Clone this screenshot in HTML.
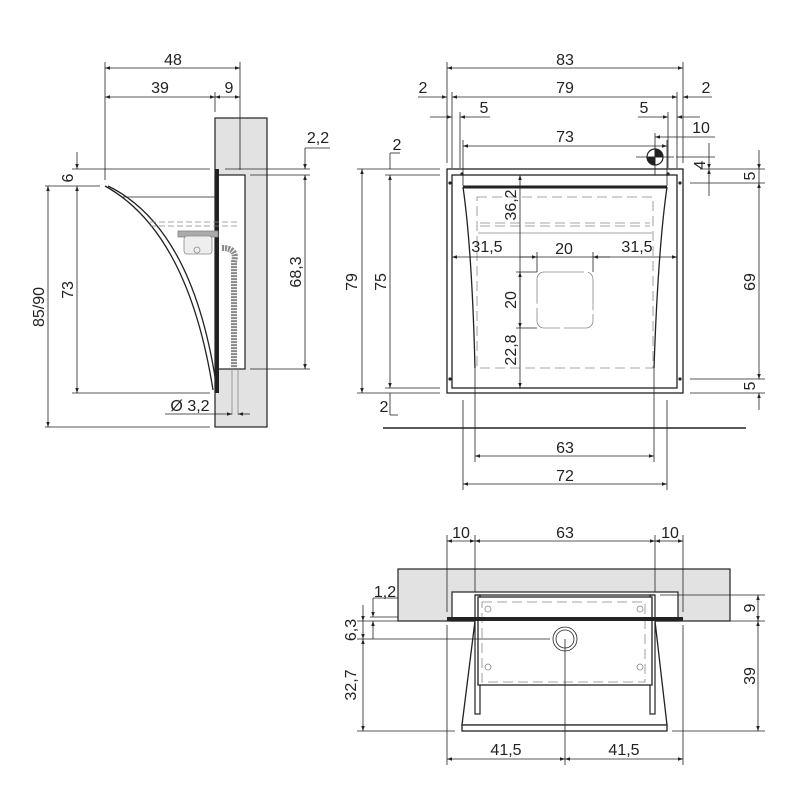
<!DOCTYPE html>
<html><head><meta charset="utf-8"><style>
html,body{margin:0;padding:0;background:#fff;}
svg{display:block}
text{font-family:"Liberation Sans",Arial,sans-serif;font-size:16px;fill:#222;}
</style></head><body>
<svg width="800" height="800" viewBox="0 0 800 800" xmlns="http://www.w3.org/2000/svg">
<defs>
<marker id="a" viewBox="0 0 10 10" refX="10" refY="5" markerWidth="7" markerHeight="5" orient="auto-start-reverse" markerUnits="userSpaceOnUse"><path d="M0,1.5L10,5L0,8.5z" fill="#222"/></marker>
</defs>
<g stroke="#222" stroke-width="0.8" fill="none">
<!-- ============ SIDE VIEW ============ -->
<rect x="215" y="118" width="52" height="309" fill="#e2e2e2" stroke="#222" stroke-width="1.2"/>
<rect x="218" y="175" width="27" height="194" fill="#fff" stroke="#222" stroke-width="1.2"/>
<rect x="215" y="169" width="4" height="224" fill="#222" stroke="none"/>
<path d="M105,186 Q188,232 213,390" stroke-width="1.3"/>
<path d="M108,186 Q194,228 217,390" stroke-width="1.3"/>
<line x1="123" y1="197" x2="215" y2="197"/>
<g stroke="#888">
<path d="M150,222 L240,222 M150,226 L240,226" stroke-dasharray="6,3"/>
<rect x="178" y="231" width="40" height="6" fill="#aaa"/>
<rect x="184" y="236" width="28" height="18" rx="3" fill="#eee"/>
<circle cx="197" cy="250" r="3"/>
<path d="M222,248 Q238,248 234,262 L234,368" stroke-width="6" stroke="#888" stroke-dasharray="2,1"/>
<path d="M232,369 L232,415 M238,369 L238,415"/>
</g>
<line x1="105" y1="62" x2="105" y2="180"/>
<line x1="240" y1="62" x2="240" y2="170"/>
<line x1="215" y1="92" x2="215" y2="112"/>
<line x1="105" y1="68" x2="240" y2="68" marker-start="url(#a)" marker-end="url(#a)"/>
<line x1="105" y1="97" x2="215" y2="97" marker-start="url(#a)" marker-end="url(#a)"/>
<line x1="215" y1="97" x2="240" y2="97" marker-start="url(#a)" marker-end="url(#a)"/>
<line x1="72" y1="169" x2="210" y2="169"/>
<line x1="45" y1="186" x2="100" y2="186"/>
<line x1="72" y1="393" x2="210" y2="393"/>
<line x1="45" y1="427" x2="210" y2="427"/>
<line x1="77" y1="152" x2="77" y2="169" marker-end="url(#a)"/>
<line x1="77" y1="186" x2="77" y2="393" marker-start="url(#a)" marker-end="url(#a)"/>
<line x1="48" y1="186" x2="48" y2="427" marker-start="url(#a)" marker-end="url(#a)"/>
<line x1="225" y1="169" x2="310" y2="169"/>
<line x1="250" y1="175" x2="310" y2="175"/>
<line x1="250" y1="369" x2="310" y2="369"/>
<line x1="305" y1="148" x2="330" y2="148"/>
<line x1="305" y1="148" x2="305" y2="169" marker-end="url(#a)"/>
<line x1="305" y1="175" x2="305" y2="369" marker-start="url(#a)" marker-end="url(#a)"/>
<line x1="165" y1="414" x2="232" y2="414" marker-end="url(#a)"/>
<line x1="250" y1="414" x2="238" y2="414" marker-end="url(#a)"/>

<!-- ============ FRONT VIEW ============ -->
<rect x="447" y="169" width="236" height="224" stroke-width="1.3"/>
<rect x="452" y="175" width="225" height="213" stroke-width="1.3"/>
<line x1="463" y1="187" x2="667" y2="187" stroke-width="3"/>
<path d="M463,187 Q472,250 475,368" stroke-width="1.3"/>
<path d="M667,187 Q658,250 654,368" stroke-width="1.3"/>
<g stroke="#888">
<rect x="477" y="197" width="176" height="171" stroke-dasharray="10,5"/>
<line x1="480" y1="223" x2="650" y2="223" stroke-dasharray="10,5"/>
<line x1="480" y1="226" x2="650" y2="226" stroke-dasharray="10,5"/>
<line x1="478" y1="233" x2="652" y2="233"/>
<rect x="537" y="272" width="56" height="56" rx="7" stroke-dasharray="40,4"/>
</g>
<circle cx="462" cy="174" r="1.2" fill="#222"/><circle cx="668" cy="174" r="1.2" fill="#222"/>
<circle cx="450" cy="183" r="1.2" fill="#222"/><circle cx="680" cy="183" r="1.2" fill="#222"/>
<circle cx="450" cy="379" r="1.2" fill="#222"/><circle cx="680" cy="379" r="1.2" fill="#222"/>
<circle cx="655" cy="157" r="8" fill="#fff" stroke-width="1.2"/>
<path d="M655,157 L655,149 A8,8 0 0 1 663,157 Z" fill="#222"/>
<path d="M655,157 L655,165 A8,8 0 0 1 647,157 Z" fill="#222"/>
<line x1="636" y1="157" x2="674" y2="157"/>
<line x1="655" y1="133" x2="655" y2="175"/>
<line x1="447" y1="62" x2="447" y2="163"/>
<line x1="683" y1="62" x2="683" y2="163"/>
<line x1="452" y1="92" x2="452" y2="168"/>
<line x1="677" y1="92" x2="677" y2="168"/>
<line x1="460" y1="112" x2="460" y2="168"/>
<line x1="668" y1="112" x2="668" y2="168"/>
<line x1="447" y1="68" x2="683" y2="68" marker-start="url(#a)" marker-end="url(#a)"/>
<line x1="452" y1="97" x2="677" y2="97" marker-start="url(#a)" marker-end="url(#a)"/>
<line x1="418" y1="97" x2="447" y2="97" marker-end="url(#a)"/>
<line x1="712" y1="97" x2="683" y2="97" marker-end="url(#a)"/>
<line x1="430" y1="117" x2="452" y2="117" marker-end="url(#a)"/>
<line x1="490" y1="117" x2="460" y2="117" marker-end="url(#a)"/>
<line x1="638" y1="117" x2="668" y2="117" marker-end="url(#a)"/>
<line x1="700" y1="117" x2="677" y2="117" marker-end="url(#a)"/>
<line x1="463" y1="146" x2="667" y2="146" marker-start="url(#a)" marker-end="url(#a)"/>
<line x1="463" y1="140" x2="463" y2="186"/>
<line x1="667" y1="140" x2="667" y2="186"/>
<line x1="655" y1="137" x2="683" y2="137" marker-start="url(#a)"/>
<line x1="683" y1="137" x2="715" y2="137"/>
<line x1="676" y1="157" x2="715" y2="157"/>
<line x1="709" y1="143" x2="709" y2="169" marker-end="url(#a)"/>
<line x1="709" y1="196" x2="709" y2="169" marker-end="url(#a)"/>
<line x1="690" y1="183" x2="765" y2="183"/>
<line x1="690" y1="379" x2="765" y2="379"/>
<line x1="690" y1="393" x2="765" y2="393"/>
<line x1="759" y1="150" x2="759" y2="169" marker-end="url(#a)"/>
<line x1="759" y1="169" x2="759" y2="183"/>
<line x1="759" y1="183" x2="759" y2="379" marker-start="url(#a)" marker-end="url(#a)"/>
<line x1="759" y1="410" x2="759" y2="393" marker-end="url(#a)"/>
<line x1="700" y1="169" x2="765" y2="169"/>
<line x1="357" y1="169" x2="440" y2="169"/>
<line x1="385" y1="175" x2="440" y2="175"/>
<line x1="385" y1="388" x2="440" y2="388"/>
<line x1="357" y1="393" x2="440" y2="393"/>
<line x1="362" y1="169" x2="362" y2="393" marker-start="url(#a)" marker-end="url(#a)"/>
<line x1="390" y1="175" x2="390" y2="388" marker-start="url(#a)" marker-end="url(#a)"/>
<line x1="390" y1="153" x2="400" y2="153"/>
<line x1="390" y1="153" x2="390" y2="169"/>
<line x1="390" y1="415" x2="398" y2="415"/>
<line x1="390" y1="393" x2="390" y2="415"/>
<line x1="520" y1="175" x2="520" y2="388" marker-start="url(#a)" marker-end="url(#a)"/>
<line x1="520" y1="272" x2="520" y2="328" marker-start="url(#a)" marker-end="url(#a)"/>
<line x1="516" y1="272" x2="537" y2="272"/>
<line x1="516" y1="328" x2="537" y2="328"/>
<line x1="452" y1="257" x2="677" y2="257" marker-start="url(#a)" marker-end="url(#a)"/>
<line x1="537" y1="252" x2="537" y2="272"/>
<line x1="593" y1="252" x2="593" y2="272"/>
<line x1="520" y1="257" x2="537" y2="257" marker-end="url(#a)"/>
<line x1="610" y1="257" x2="593" y2="257" marker-end="url(#a)"/>
<line x1="383" y1="428" x2="746" y2="428" stroke-width="1.5"/>
<line x1="475" y1="368" x2="475" y2="462"/>
<line x1="654" y1="368" x2="654" y2="462"/>
<line x1="463" y1="400" x2="463" y2="490"/>
<line x1="667" y1="400" x2="667" y2="490"/>
<line x1="475" y1="456" x2="654" y2="456" marker-start="url(#a)" marker-end="url(#a)"/>
<line x1="463" y1="484" x2="667" y2="484" marker-start="url(#a)" marker-end="url(#a)"/>

<!-- ============ BOTTOM VIEW ============ -->
<rect x="398" y="569" width="332" height="52" fill="#e2e2e2" stroke-width="1.2"/>
<rect x="452" y="592" width="226" height="29" fill="#fff" stroke-width="1.2"/>
<path d="M475,621 L462,725 L667,725 L655,621" fill="#fff" stroke-width="1.3"/>
<rect x="462" y="725" width="205" height="6" fill="#fff" stroke-width="1.3"/>
<rect x="475" y="595" width="5" height="119" fill="#fff" stroke-width="1.2"/>
<rect x="650" y="595" width="5" height="119" fill="#fff" stroke-width="1.2"/>
<rect x="478" y="597" width="174" height="88" fill="#fff" stroke-width="1.3"/>
<line x1="475" y1="595" x2="655" y2="595" stroke-width="1.3"/>
<rect x="482" y="602" width="163" height="80" stroke="#888" stroke-dasharray="10,5"/>
<rect x="447" y="617" width="236" height="4" fill="#222" stroke="none"/>
<circle cx="565" cy="639" r="12"/><circle cx="565" cy="639" r="9"/>
<circle cx="488" cy="609" r="3" stroke="#888"/><circle cx="640" cy="609" r="3" stroke="#888"/>
<circle cx="488" cy="667" r="3" stroke="#888"/><circle cx="640" cy="667" r="3" stroke="#888"/>
<line x1="447" y1="535" x2="447" y2="612"/>
<line x1="683" y1="535" x2="683" y2="612"/>
<line x1="475" y1="535" x2="475" y2="592"/>
<line x1="655" y1="535" x2="655" y2="592"/>
<line x1="447" y1="541" x2="475" y2="541" marker-start="url(#a)" marker-end="url(#a)"/>
<line x1="475" y1="541" x2="655" y2="541" marker-start="url(#a)" marker-end="url(#a)"/>
<line x1="655" y1="541" x2="683" y2="541" marker-start="url(#a)" marker-end="url(#a)"/>
<line x1="447" y1="625" x2="447" y2="765"/>
<line x1="683" y1="625" x2="683" y2="765"/>
<line x1="565" y1="639" x2="565" y2="765"/>
<line x1="447" y1="759" x2="565" y2="759" marker-start="url(#a)" marker-end="url(#a)"/>
<line x1="565" y1="759" x2="683" y2="759" marker-start="url(#a)" marker-end="url(#a)"/>
<line x1="660" y1="595" x2="765" y2="595"/>
<line x1="690" y1="621" x2="765" y2="621"/>
<line x1="672" y1="731" x2="765" y2="731"/>
<line x1="758" y1="595" x2="758" y2="621" marker-start="url(#a)" marker-end="url(#a)"/>
<line x1="758" y1="621" x2="758" y2="731" marker-start="url(#a)" marker-end="url(#a)"/>
<line x1="370" y1="617" x2="398" y2="617"/>
<line x1="357" y1="621" x2="398" y2="621"/>
<line x1="357" y1="639" x2="550" y2="639"/>
<line x1="357" y1="731" x2="455" y2="731"/>
<line x1="373" y1="598" x2="398" y2="598"/>
<line x1="373" y1="598" x2="373" y2="617" marker-end="url(#a)"/>
<line x1="373" y1="639" x2="373" y2="621" marker-end="url(#a)"/>
<line x1="363" y1="605" x2="363" y2="621" marker-end="url(#a)"/>
<line x1="363" y1="621" x2="363" y2="639" marker-end="url(#a)"/>
<line x1="363" y1="639" x2="363" y2="731" marker-start="url(#a)" marker-end="url(#a)"/>
</g>

<g text-anchor="middle">
<text x="173" y="65">48</text>
<text x="160" y="93">39</text>
<text x="229" y="93">9</text>
<text x="318" y="143">2,2</text>
<text x="190" y="411">Ø 3,2</text>
<text transform="translate(73,178) rotate(-90)">6</text>
<text transform="translate(73,290) rotate(-90)">73</text>
<text transform="translate(44,307) rotate(-90)">85/90</text>
<text transform="translate(301,272) rotate(-90)">68,3</text>

<text x="565" y="65">83</text>
<text x="565" y="93">79</text>
<text x="423" y="93">2</text>
<text x="706" y="93">2</text>
<text x="484" y="113">5</text>
<text x="644" y="113">5</text>
<text x="565" y="142">73</text>
<text x="701" y="133">10</text>
<text x="397" y="150">2</text>
<text x="384" y="412">2</text>
<text x="487" y="252">31,5</text>
<text x="564" y="254">20</text>
<text x="637" y="252">31,5</text>
<text x="565" y="453">63</text>
<text x="565" y="481">72</text>
<text transform="translate(705,165) rotate(-90)">4</text>
<text transform="translate(755,176) rotate(-90)">5</text>
<text transform="translate(755,282) rotate(-90)">69</text>
<text transform="translate(755,386) rotate(-90)">5</text>
<text transform="translate(357,282) rotate(-90)">79</text>
<text transform="translate(386,282) rotate(-90)">75</text>
<text transform="translate(516,205) rotate(-90)">36,2</text>
<text transform="translate(516,300) rotate(-90)">20</text>
<text transform="translate(516,350) rotate(-90)">22,8</text>

<text x="461" y="538">10</text>
<text x="565" y="538">63</text>
<text x="670" y="538">10</text>
<text x="506" y="755">41,5</text>
<text x="624" y="755">41,5</text>
<text x="385" y="597">1,2</text>
<text transform="translate(755,608) rotate(-90)">9</text>
<text transform="translate(755,676) rotate(-90)">39</text>
<text transform="translate(356,630) rotate(-90)">6,3</text>
<text transform="translate(356,685) rotate(-90)">32,7</text>
</g>
</svg>
</body></html>
